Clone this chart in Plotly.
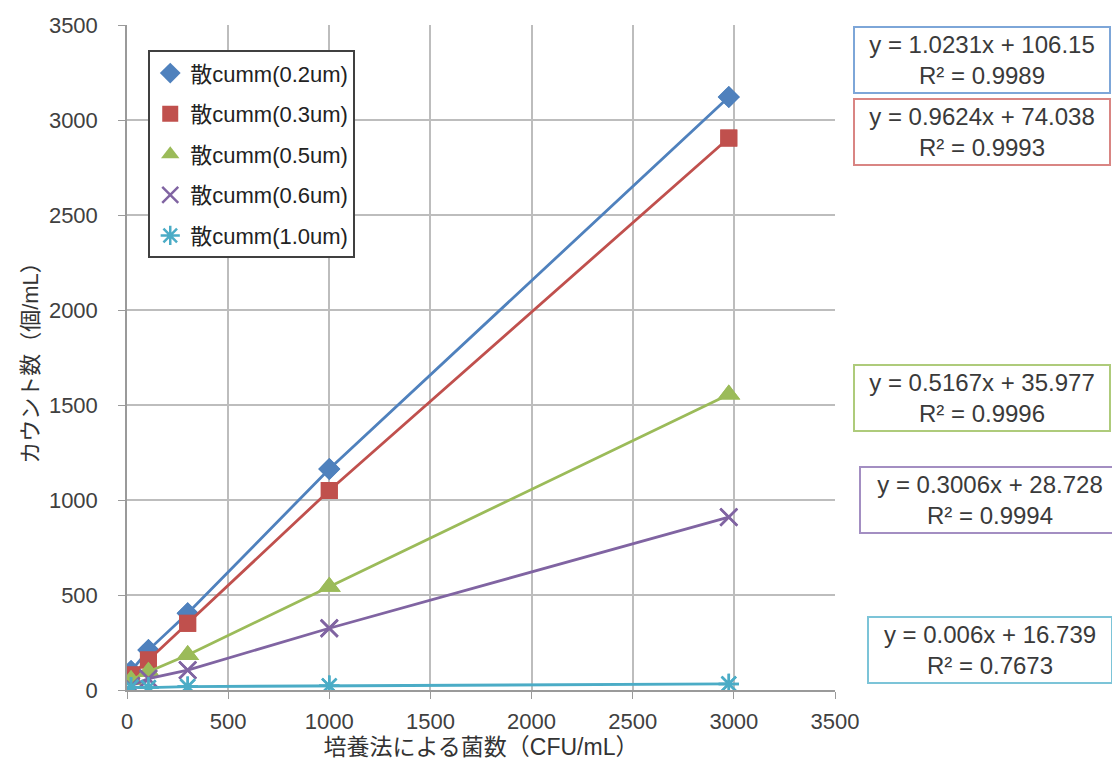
import plotly.graph_objects as go

# ---- data ----
series_names = ["散cumm(0.2um)", "散cumm(0.3um)", "散cumm(0.5um)", "散cumm(0.6um)", "散cumm(1.0um)"]
x_values = [20, 106, 300, 1000, 2975]
y_02 = [100, 210, 404, 1163, 3121]
y_03 = [79, 158, 351, 1050, 2905]
y_05 = [53, 96, 184, 544, 1555]
y_06 = [22, 60, 105, 325, 910]
y_10 = [15, 13, 18, 22, 32]
equations = ["y = 1.0231x + 106.15", "y = 0.9624x + 74.038", "y = 0.5167x + 35.977",
             "y = 0.3006x + 28.728", "y = 0.006x + 16.739"]
r_squared = ["R² = 0.9989", "R² = 0.9993", "R² = 0.9996", "R² = 0.9994", "R² = 0.7673"]
x_title = "培養法による菌数（CFU/mL）"
y_title = "カウント数（個/mL）"
tick_vals = [0, 500, 1000, 1500, 2000, 2500, 3000, 3500]

# ---- styles ----
colors = ["#4F81BD", "#C0504D", "#9BBB59", "#8064A2", "#4BACC6"]
box_colors = ["#7DA6D8", "#D98583", "#AECB7B", "#A38EC2", "#7CC4D8"]
symbols = ["diamond", "square", "triangle-up", "x-thin-open", "asterisk-open"]
msizes = [17, 17, 20, 17, 17]
FONT = "Liberation Sans, Arial, Noto Sans CJK JP, sans-serif"

all_y = [y_02, y_03, y_05, y_06, y_10]

fig = go.Figure()
for i, (name, ys) in enumerate(zip(series_names, all_y)):
    mk = dict(symbol=symbols[i], size=msizes[i], color=colors[i])
    if "open" in symbols[i]:
        mk["line"] = dict(color=colors[i], width=2.5)
    fig.add_trace(go.Scatter(x=x_values, y=ys, mode="lines+markers", showlegend=False,
                             line=dict(color=colors[i], width=2.8), marker=mk,
                             legendgroup=f"g{i}", hoverinfo="skip"))
    fig.add_trace(go.Scatter(x=x_values, y=ys, mode="markers", name=name,
                             marker=mk, legendgroup=f"g{i}"))

# Annotation boxes (left px, top px)
PL, PW, PT, PH = 127, 708, 25, 665
boxes = [(853, 26), (853, 98), (853, 364), (859, 466), (867, 616)]
box_w = [252, 252, 252, 256, 240]
for i, (lx, ty) in enumerate(boxes):
    fig.add_annotation(
        xref="paper", yref="paper",
        x=(lx - PL) / PW, y=(PT + PH - ty) / PH,
        xanchor="left", yanchor="top",
        text=f"{equations[i]}<br>{r_squared[i]}",
        showarrow=False, align="center",
        font=dict(family=FONT, size=24, color="#3a3a3a"),
        bordercolor=box_colors[i], borderwidth=2, borderpad=1,
        bgcolor="white", width=box_w[i], height=62,
    )

fig.update_layout(
    width=1112, height=776,
    margin=dict(l=PL, r=1112 - PL - PW, t=PT, b=776 - PT - PH),
    paper_bgcolor="white", plot_bgcolor="white",
    font=dict(family=FONT, color="#404040"),
    legend=dict(x=0.03, y=0.962, xanchor="left", yanchor="top",
                bordercolor="#404040", borderwidth=2, bgcolor="white",
                font=dict(family=FONT, size=22, color="#222"),
                tracegroupgap=9, itemsizing="trace"),
)
fig.update_xaxes(range=[0, 3500], tickvals=tick_vals, showgrid=True,
                 gridcolor="#bdbdbd", gridwidth=2, showline=True, linecolor="#9a9a9a",
                 linewidth=1.5, ticks="outside", ticklen=7, tickcolor="#9a9a9a",
                 ticklabelstandoff=4,
                 tickfont=dict(family=FONT, size=22, color="#404040"), zeroline=False,
                 title=dict(text=x_title, font=dict(family=FONT, size=23, color="#333"), standoff=4))
fig.update_yaxes(range=[0, 3500], tickvals=tick_vals, showgrid=True,
                 gridcolor="#bdbdbd", gridwidth=2, showline=True, linecolor="#9a9a9a",
                 linewidth=1.5, ticks="outside", ticklen=7, tickcolor="#9a9a9a",
                 ticklabelstandoff=16,
                 tickfont=dict(family=FONT, size=22, color="#404040"), zeroline=False,
                 title=dict(text=y_title, font=dict(family=FONT, size=22, color="#333"), standoff=4))

fig.write_html("out.html")
